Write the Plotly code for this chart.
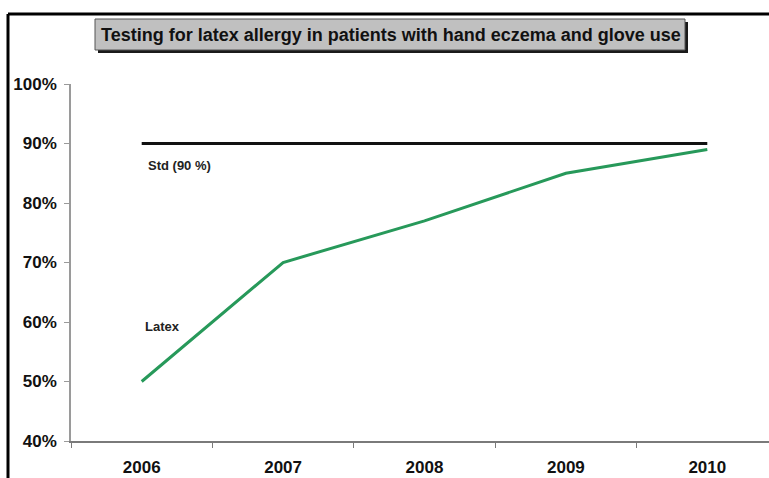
import plotly.graph_objects as go

# Chart data
years = ["2006", "2007", "2008", "2009", "2010"]
latex_pct = [50, 70, 77, 85, 89]
std_pct = [90, 90, 90, 90, 90]
y_ticks = [40, 50, 60, 70, 80, 90, 100]
y_tick_labels = ["40%", "50%", "60%", "70%", "80%", "90%", "100%"]
title_text = "Testing for latex allergy in patients with hand eczema and glove use"

W, H = 769, 478
# plot area in pixels
PL, PR, PT, PB = 71, 769, 84, 441


def px(x):
    return (x - PL) / (PR - PL)


def py(y):
    return (PB - y) / (PB - PT)


FONT = "Liberation Sans, Arial, sans-serif"

fig = go.Figure()

fig.add_trace(go.Scatter(
    x=years, y=std_pct, mode="lines",
    line=dict(color="#111111", width=3), hoverinfo="skip", showlegend=False,
))
fig.add_trace(go.Scatter(
    x=years, y=latex_pct, mode="lines",
    line=dict(color="#27995a", width=3), hoverinfo="skip", showlegend=False,
))

shapes = [
    # outer frame (top and left edges)
    dict(type="line", xref="paper", yref="paper", x0=px(8), x1=px(780), y0=py(14), y1=py(14),
         line=dict(color="black", width=3)),
    dict(type="line", xref="paper", yref="paper", x0=px(8), x1=px(8), y0=py(14), y1=py(490),
         line=dict(color="black", width=3)),
    # title box shadow and box
    dict(type="rect", xref="paper", yref="paper", x0=px(98), x1=px(688), y0=py(53), y1=py(22),
         fillcolor="#1a1a1a", line=dict(width=0), layer="above"),
    dict(type="rect", xref="paper", yref="paper", x0=px(95), x1=px(685), y0=py(50), y1=py(19),
         fillcolor="#c0c0c0", line=dict(color="#555555", width=1), layer="above"),
]

annotations = [
    dict(text="<b>" + title_text + "</b>", xref="paper", yref="paper",
         x=px(391), y=py(35), xanchor="center", yanchor="middle", showarrow=False,
         font=dict(family=FONT, size=18, color="#111111")),
    dict(text="<b>Std (90 %)</b>", xref="paper", yref="paper",
         x=px(146), y=py(165), xanchor="left", yanchor="middle", showarrow=False,
         font=dict(family=FONT, size=13, color="#222222")),
    dict(text="<b>Latex</b>", xref="paper", yref="paper",
         x=px(143), y=py(326), xanchor="left", yanchor="middle", showarrow=False,
         font=dict(family=FONT, size=13, color="#222222")),
]

fig.update_layout(
    width=W, height=H,
    margin=dict(l=PL, r=W - PR, t=PT, b=H - PB, pad=0),
    paper_bgcolor="white", plot_bgcolor="white",
    shapes=shapes, annotations=annotations,
    xaxis=dict(
        type="category", range=[-0.5, -0.5 + (PR - PL) / 141.4],
        showgrid=False, zeroline=False,
        showline=True, linecolor="#7a7a7a", linewidth=2,
        ticks="outside", tickson="boundaries", ticklen=5, tickcolor="#7a7a7a", tickwidth=1,
        tickfont=dict(family=FONT, size=17, color="#111111"),
        ticklabelstandoff=10,
    ),
    yaxis=dict(
        range=[40, 100], tickvals=y_ticks, ticktext=["<b>%s</b>" % t for t in y_tick_labels],
        showgrid=False, zeroline=False,
        showline=True, linecolor="#9a9a9a", linewidth=1.5,
        ticks="outside", ticklen=5, tickcolor="#9a9a9a", tickwidth=1,
        tickfont=dict(family=FONT, size=17, color="#111111"),
        ticklabelstandoff=4,
    ),
)
fig.update_xaxes(ticktext=["<b>%s</b>" % y for y in years], tickvals=years)

fig.write_html("out.html")
